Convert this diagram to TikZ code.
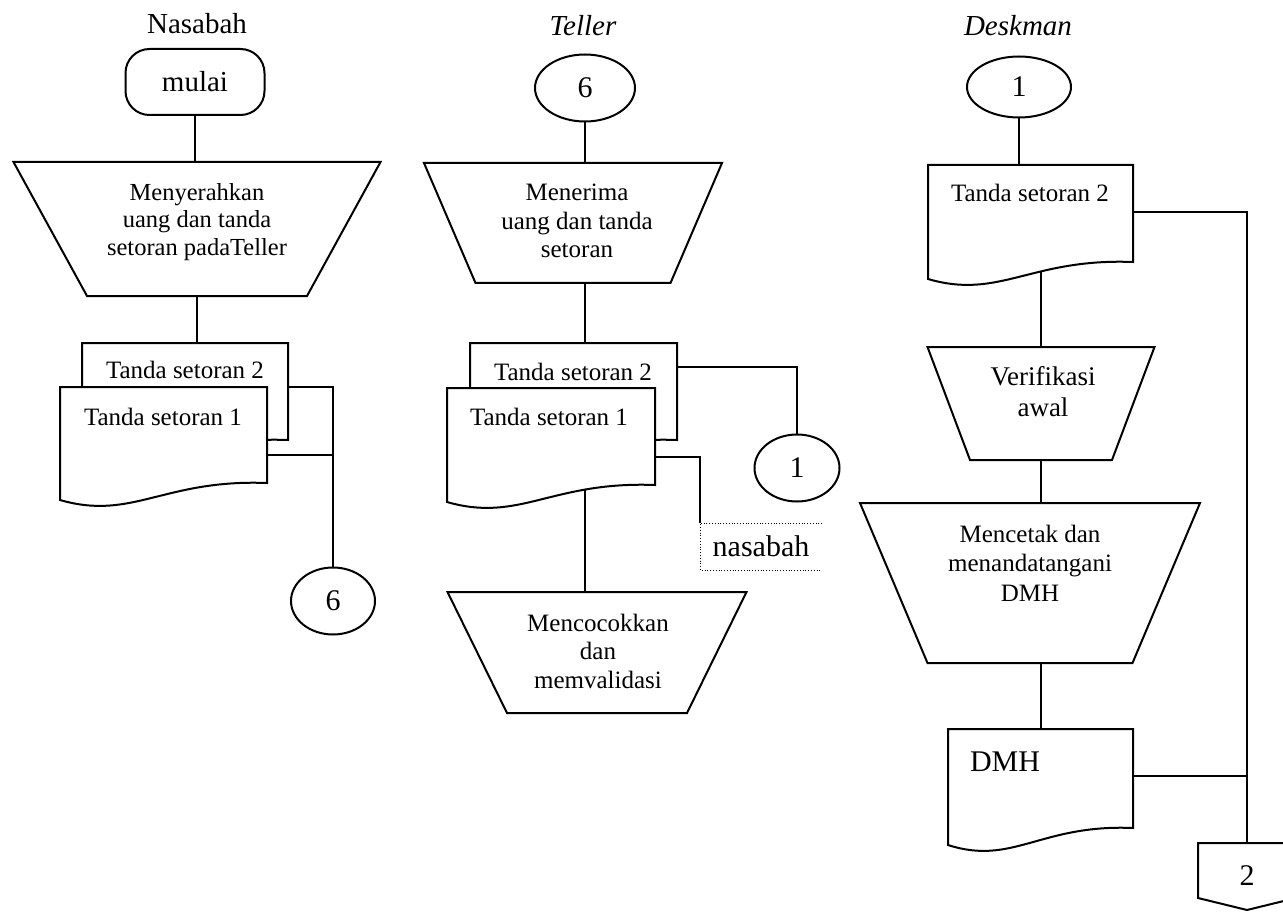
\documentclass[tikz,border=0pt]{standalone}
\usepackage{fontspec}
\setmainfont{Liberation Serif}
\usetikzlibrary{shapes.geometric,calc}
\pgfdeclarelayer{bg}
\pgfsetlayers{bg,main}

\tikzset{
  every node/.style={inner sep=0pt, outer sep=0pt},
  outline/.style={draw, line width=2pt, fill=white, line join=miter},
  txt/.style={align=center, font=\fontsize{25}{28.5}\selectfont},
  title/.style={font=\fontsize{29}{34}\selectfont},
  onpage/.style={ellipse, outline, font=\fontsize{30}{34}\selectfont},
  terminal/.style={rectangle, rounded corners=24pt, outline, font=\fontsize{29}{34}\selectfont},
  conn/.style={draw, line width=2pt},
}

% manual-operation trapezium: name, centre x, top y, top width, bottom width, height
\newcommand\FlowTrap[6]{%
  \node[rectangle, draw=none, minimum width=#4pt, minimum height=#6pt, anchor=north] (#1) at (#2,#3) {};
  \path[outline] (#1.north west) -- (#1.north east)
    -- ($(#1.south east)+({-(#4-#5)/2},0)$)
    -- ($(#1.south west)+({(#4-#5)/2},0)$) -- cycle;
}
% document symbol: name, left x, top y, width, height down to the right-hand bottom corner
\newcommand\FlowDoc[5]{%
  \node[rectangle, draw=none, minimum width=#4pt, minimum height=#5pt, anchor=north west] (#1) at (#2,#3) {};
  \path[outline] (#1.south east) -- (#1.north east) -- (#1.north west)
    -- ($(#1.south west)+(0,17)$)
    .. controls ($(#1.south west)+({0.35*#4},38)$) and ($(#1.south east)+({-0.5*#4},-4)$) .. (#1.south east) -- cycle;
}

\begin{document}
\begin{tikzpicture}[x=1pt, y=-1pt]
\useasboundingbox (0,0) rectangle (1283,912);
\begin{pgfonlayer}{bg}
  \fill[white] (0,0) rectangle (1283,912);
\end{pgfonlayer}

% ---------- lane titles ----------
\node[title] (tN) at (197,24) {Nasabah};
\node[title] (tT) at (583,26) {\itshape Teller};
\node[title] (tD) at (1018,26) {\itshape Deskman};

% ---------- Nasabah ----------
\node[terminal, minimum width=139pt, minimum height=66pt] (mulai) at (195,82) {mulai};
\FlowTrap{trapN}{197}{162}{367}{220}{134}
\node[txt, font=\fontsize{24.5}{27.5}\selectfont] (trapNt) at (197,222) {Menyerahkan\\uang dan tanda\\setoran padaTeller};
\FlowDoc{docN2}{82}{343}{206}{97}
\FlowDoc{docN1}{60}{387}{207}{96}
\node[txt] (docN2t) at (185,370) {Tanda setoran 2};
\node[txt] (docN1t) at (163,417) {Tanda setoran 1};
\node[onpage, minimum width=84pt, minimum height=67pt] (conN6) at (333,601) {6};

% ---------- Teller ----------
\node[onpage, minimum width=100pt, minimum height=67pt] (conT6) at (585,88) {6};
\FlowTrap{trapT}{573}{163}{298}{195}{120}
\node[txt] (trapTt) at (577,221) {Menerima\\uang dan tanda\\setoran};
\FlowDoc{docT2}{470}{343}{207}{97}
\FlowDoc{docT1}{447}{388}{208}{97}
\node[txt] (docT2t) at (573,372) {Tanda setoran 2};
\node[txt] (docT1t) at (549,417) {Tanda setoran 1};
\node[onpage, minimum width=85pt, minimum height=67pt] (conT1) at (797,468) {1};
\node[rectangle, minimum width=122pt, minimum height=47pt, anchor=north west,
      font=\fontsize{30}{34}\selectfont] (nsb) at (700,523) {nasabah};
\draw[line width=0.8pt, dotted] (nsb.north east) -- (nsb.north west) -- (nsb.south west) -- (nsb.south east);
\FlowTrap{trapT2}{597}{592}{299}{180}{121}
\node[txt] (trapT2t) at (598,651) {Mencocokkan\\dan\\memvalidasi};

% ---------- Deskman ----------
\node[onpage, minimum width=104pt, minimum height=61pt] (conD1) at (1019,87) {1};
\FlowDoc{docD}{928}{165}{205}{97}
\node[txt] (docDt) at (1030,193) {Tanda setoran 2};
\FlowTrap{trapD1}{1041}{347}{227}{142}{113}
\node[txt, font=\fontsize{27}{31}\selectfont] (trapD1t) at (1043,392) {Verifikasi\\awal};
\FlowTrap{trapD2}{1030}{503}{340}{205}{160}
\node[txt, font=\fontsize{25}{29.5}\selectfont] (trapD2t) at (1030,563) {Mencetak dan\\menandatangani\\DMH};
\FlowDoc{docDMH}{948}{729}{185}{99}
\node[txt, font=\fontsize{30}{34}\selectfont] (docDMHt) at (1005,762) {DMH};
\node[rectangle, draw=none, minimum width=98pt, minimum height=67pt, anchor=north] (offD) at (1247,843) {};
\path[outline] (offD.north west) -- (offD.north east) -- ($(offD.north east)+(0,55)$)
  -- (offD.south) -- ($(offD.north west)+(0,55)$) -- cycle;
\node[font=\fontsize{30}{34}\selectfont] (offDt) at (1247,876) {2};

% ---------- connectors (behind the symbols) ----------
\begin{pgfonlayer}{bg}
  % Nasabah
  \draw[conn] (mulai.south) -- (mulai.south |- trapN.north);
  \draw[conn] (trapN.south) -- (trapN.south |- docN2.north);
  \coordinate (jN2) at ($(docN2.north east)+(0,44)$);
  \coordinate (jN1) at ($(docN1.north east)+(0,68)$);
  \draw[conn] (jN2) -| (conN6.north);
  \draw[conn] (jN1) -- (jN1 -| conN6.north);
  % Teller
  \draw[conn] (conT6.south) -- (conT6.south |- trapT.north);
  \draw[conn] (conT6.south |- trapT.south) -- (conT6.south |- docT2.north);
  \coordinate (jT2) at ($(docT2.north east)+(0,24)$);
  \coordinate (jT1) at ($(docT1.north east)+(0,69)$);
  \draw[conn] (jT2) -| (conT1.north);
  \draw[conn] (jT1) -| (nsb.north west);
  \draw[conn] (conT6.south |- docT1.south) -- (conT6.south |- trapT2.north);
  % Deskman
  \draw[conn] (conD1.south) -- (conD1.south |- docD.north);
  \coordinate (jD) at ($(docD.north east)+(0,47)$);
  \coordinate (jM) at ($(docDMH.north east)+(0,47)$);
  \draw[conn] (jD) -| (offD.north);
  \draw[conn] (jM) -- (jM -| offD.north);
  \draw[conn] (trapD1.north |- docD.south) -- (trapD1.north);
  \draw[conn] (trapD1.south) -- (trapD1.south |- trapD2.north);
  \draw[conn] (trapD1.south |- trapD2.south) -- (trapD1.south |- docDMH.north);
\end{pgfonlayer}
\end{tikzpicture}
\end{document}
